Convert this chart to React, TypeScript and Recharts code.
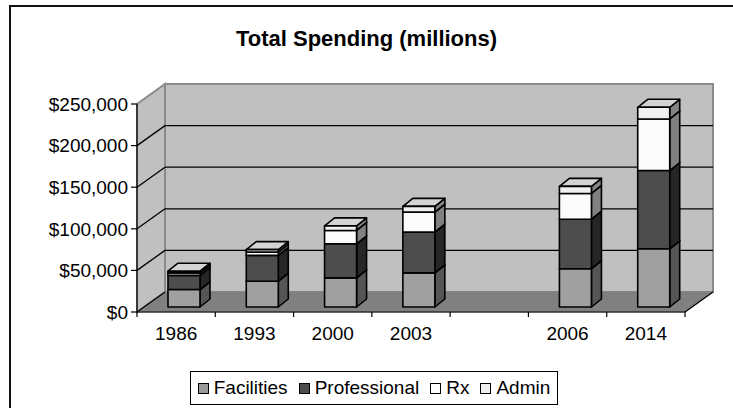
import React from 'react';
import { BarChart, Bar, XAxis, YAxis, Legend, ReferenceArea } from 'recharts';

const categories = ['1986', '1993', '2000', '2003', '', '2006', '2014'];
const facilities = [21000, 31000, 35000, 41000, null, 46000, 70000];
const professional = [17000, 31000, 41000, 49000, null, 59500, 94000];
const rx = [3000, 4000, 16000, 24000, null, 31000, 62000];
const admin = [2000, 3000, 5500, 7000, null, 8500, 14000];
const yTicks = [0, 50000, 100000, 150000, 200000, 250000];
const seriesNames = ['Facilities', 'Professional', 'Rx', 'Admin'];

const data = categories.map((c, i) => ({
  year: c,
  Facilities: facilities[i],
  Professional: professional[i],
  Rx: rx[i],
  Admin: admin[i],
}));

const W = 733;
const H = 408;
const PLOT_L = 137;
const PLOT_R = 685;
const PLOT_T = 104;
const PLOT_B = 312;
const YAXIS_W = 60;
const XAXIS_H = 30;
const BAND = (PLOT_R - PLOT_L) / categories.length;
const FONT = 'Liberation Sans, Arial, sans-serif';
const FS = 19;

// 3D offsets
const WALL_DX = 28;
const WALL_DY = -20;
const FX = 8;
const FY = -5;
const DX = 10;
const DY = -8;

const colors: Record<string, { front: string; side: string; top: string; swatch: string }> = {
  Facilities: { front: '#a0a0a0', side: '#555555', top: '#8a8a8a', swatch: '#9a9a9a' },
  Professional: { front: '#4d4d4d', side: '#262626', top: '#3a3a3a', swatch: '#4d4d4d' },
  Rx: { front: '#fbfbfb', side: '#808080', top: '#d6d6d6', swatch: '#ffffff' },
  Admin: { front: '#f0f0f0', side: '#858585', top: '#d4d4d4', swatch: '#eeeeee' },
};

const makeShape = (name: string) => (props: any) => {
  const { x, y, width, height } = props;
  if (!width || !height || height <= 0) return <g />;
  const c = colors[name];
  const x0 = x + FX;
  const y0 = y + FY;
  const w = width;
  const h = height;
  return (
    <g stroke="#000" strokeWidth={1.6} strokeLinejoin="round">
      <polygon
        points={`${x0 + w},${y0} ${x0 + w + DX},${y0 + DY} ${x0 + w + DX},${y0 + h + DY} ${x0 + w},${y0 + h}`}
        fill={c.side}
      />
      <polygon
        points={`${x0},${y0} ${x0 + DX},${y0 + DY} ${x0 + w + DX},${y0 + DY} ${x0 + w},${y0}`}
        fill={c.top}
      />
      <rect x={x0} y={y0} width={w} height={h} fill={c.front} />
    </g>
  );
};

const Walls = (props: any) => {
  const { x, y, width, height } = props;
  const bottom = y + height;
  const right = x + width;
  const yOf = (v: number) => y + height * (1 - v / yTicks[yTicks.length - 1]);
  return (
    <g>
      <rect
        x={x + WALL_DX}
        y={y + WALL_DY}
        width={width}
        height={height}
        fill="#c0c0c0"
        stroke="#8a8a8a"
        strokeWidth={2}
      />
      <polygon
        points={`${x},${y} ${x + WALL_DX},${y + WALL_DY} ${x + WALL_DX},${bottom + WALL_DY} ${x},${bottom}`}
        fill="#c0c0c0"
        stroke="#8a8a8a"
        strokeWidth={2}
      />
      <polygon
        points={`${x},${bottom} ${right},${bottom} ${right + WALL_DX},${bottom + WALL_DY} ${x + WALL_DX},${bottom + WALL_DY}`}
        fill="#808080"
        stroke="#808080"
        strokeWidth={1}
      />
      <line x1={right} y1={bottom} x2={right + WALL_DX} y2={bottom + WALL_DY} stroke="#000" strokeWidth={1.2} />
      {yTicks.slice(1, yTicks.length - 1).map((v) => (
        <g key={v} stroke="#000" strokeWidth={1.3}>
          <line x1={x + WALL_DX} y1={yOf(v) + WALL_DY} x2={right + WALL_DX} y2={yOf(v) + WALL_DY} />
          <line x1={x} y1={yOf(v)} x2={x + WALL_DX} y2={yOf(v) + WALL_DY} />
        </g>
      ))}
      <line x1={x} y1={bottom} x2={x + WALL_DX} y2={bottom + WALL_DY} stroke="#000" strokeWidth={1.2} />
    </g>
  );
};

const XTick = (props: any) => {
  const { x, y, payload, index } = props;
  const top = y - 5;
  return (
    <g>
      <line x1={x - BAND / 2} x2={x - BAND / 2} y1={top} y2={top + 5} stroke="#000" strokeWidth={1.2} />
      {index === categories.length - 1 && (
        <line x1={x + BAND / 2} x2={x + BAND / 2} y1={top} y2={top + 5} stroke="#000" strokeWidth={1.2} />
      )}
      <text x={x} y={top + 28} textAnchor="middle" fontFamily={FONT} fontSize={FS} fill="#000">
        {payload.value}
      </text>
    </g>
  );
};

const LegendBox = () => (
  <div
    style={{
      border: '1.5px solid #000',
      background: '#fff',
      height: 34,
      boxSizing: 'border-box',
      display: 'flex',
      alignItems: 'center',
      justifyContent: 'center',
      fontFamily: FONT,
      fontSize: FS,
      color: '#000',
      whiteSpace: 'nowrap',
    }}
  >
    {seriesNames.map((n, i) => (
      <span key={n} style={{ display: 'inline-flex', alignItems: 'center', marginLeft: i === 0 ? 0 : 11 }}>
        <span
          style={{
            display: 'inline-block',
            width: 9,
            height: 9,
            border: '1px solid #000',
            background: colors[n].swatch,
            marginRight: 5,
          }}
        />
        {n}
      </span>
    ))}
  </div>
);

export default function App() {
  return (
    <div
      style={{
        position: 'absolute',
        left: 0,
        top: 0,
        width: W,
        height: H,
        overflow: 'hidden',
        background: '#fff',
      }}
    >
      <div
        style={{
          position: 'absolute',
          left: 9,
          top: 5,
          width: 760,
          height: 440,
          border: '2px solid #111',
          boxSizing: 'border-box',
        }}
      />
      <div
        style={{
          position: 'absolute',
          left: 0,
          top: 27,
          width: W,
          textAlign: 'center',
          fontFamily: FONT,
          fontWeight: 'bold',
          fontSize: 22,
          lineHeight: '24px',
          color: '#000',
        }}
      >
        Total Spending (millions)
      </div>
      <div style={{ position: 'absolute', left: 0, top: 0 }}>
        <BarChart
          width={W}
          height={H}
          data={data}
          barSize={32}
          margin={{ top: PLOT_T, right: W - PLOT_R, left: PLOT_L - YAXIS_W, bottom: H - PLOT_B - XAXIS_H }}
        >
          <ReferenceArea
            x1={categories[0]}
            x2={categories[categories.length - 1]}
            y1={0}
            y2={yTicks[yTicks.length - 1]}
            ifOverflow="visible"
            shape={(p: any) => <Walls {...p} />}
          />
          <XAxis
            dataKey="year"
            interval={0}
            tickLine={false}
            tickSize={5}
            tickMargin={0}
            height={XAXIS_H}
            axisLine={{ stroke: '#000', strokeWidth: 1.2 }}
            tick={<XTick />}
          />
          <YAxis
            width={YAXIS_W}
            domain={[0, 250000]}
            ticks={yTicks}
            interval={0}
            tickSize={6}
            tickMargin={3}
            axisLine={{ stroke: '#000', strokeWidth: 1.2 }}
            tickLine={{ stroke: '#000', strokeWidth: 1.2 }}
            tick={{ fill: '#000', fontSize: FS, fontFamily: FONT }}
            tickFormatter={(v: number) => `$${v.toLocaleString('en-US')}`}
          />
          {seriesNames.map((n) => (
            <Bar key={n} dataKey={n} stackId="a" isAnimationActive={false} shape={makeShape(n)} />
          ))}
          <Legend
            layout="vertical"
            align="center"
            verticalAlign="middle"
            wrapperStyle={{ left: 190, top: 371, width: 368, height: 34 }}
            content={() => <LegendBox />}
          />
        </BarChart>
      </div>
    </div>
  );
}
